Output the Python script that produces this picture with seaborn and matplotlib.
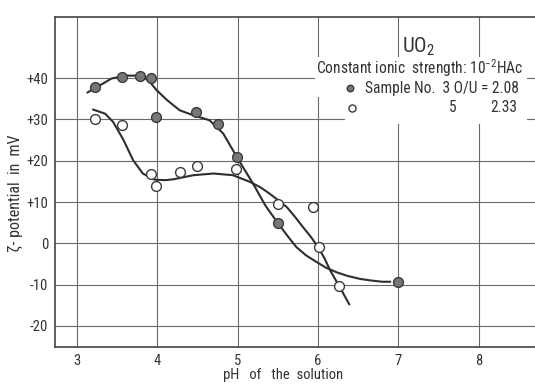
import matplotlib
matplotlib.use("Agg")
import matplotlib.pyplot as plt
from matplotlib import font_manager
from matplotlib.patches import Rectangle
import pandas as pd
import seaborn as sns

# ---------------- data ----------------
# Sample No. 3 (O/U = 2.08) - filled markers
s3_ph = [3.22, 3.56, 3.78, 3.92, 3.99, 4.48, 4.75, 4.99, 5.50, 7.00]
s3_mv = [37.9, 40.2, 40.5, 40.1, 30.6, 31.7, 29.0, 20.8, 4.9, -9.3]
# Sample No. 5 (O/U = 2.33) - open markers
s5_ph = [3.23, 3.56, 3.92, 3.99, 4.28, 4.49, 4.98, 5.50, 5.94, 6.01, 6.26]
s5_mv = [30.2, 28.6, 16.7, 13.8, 17.3, 18.7, 17.9, 9.6, 8.8, -1.0, -10.4]

# hand-drawn fitted curves
c3_ph = [3.13, 3.29, 3.43, 3.60, 3.78, 3.89, 3.99, 4.12, 4.28, 4.45, 4.65, 4.82,
         4.99, 5.19, 5.35, 5.50, 5.62, 5.73, 5.85, 5.98, 6.10, 6.23, 6.37, 6.52,
         6.66, 6.80, 6.90]
c3_mv = [36.5, 38.3, 39.9, 40.6, 40.6, 39.5, 37.1, 34.7, 32.2, 31.0, 29.8, 26.6,
         20.9, 14.5, 9.0, 4.9, 1.8, -0.9, -2.9, -4.5, -5.9, -7.0, -7.9, -8.6,
         -9.0, -9.3, -9.3]
c5_ph = [3.20, 3.35, 3.45, 3.58, 3.70, 3.82, 3.97, 4.10, 4.20, 4.45, 4.70, 4.94,
         5.15, 5.28, 5.40, 5.50, 5.61, 5.71, 5.81, 5.91, 6.00, 6.08, 6.15, 6.27,
         6.39]
c5_mv = [32.4, 31.4, 29.4, 25.0, 20.1, 16.9, 15.4, 15.3, 15.5, 16.5, 16.9, 16.5,
         14.9, 13.6, 12.0, 10.5, 8.8, 6.5, 4.0, 1.6, -0.9, -3.6, -6.5, -10.6,
         -14.8]

x_ticks = [3, 4, 5, 6, 7, 8]
y_ticks = [-20, -10, 0, 10, 20, 30, 40]
y_tick_labels = ["-20", "-10", "0", "+10", "+20", "+30", "+40"]

title_text = "UO$_2$"
cond_text = "Constant ionic  strength: 10$^{-2}$HAc"
row2_text = "Sample No.  3 O/U = 2.08"
row3_no = "5"
row3_ou = "2.33"
x_label = "pH   of   the  solution"
y_label = "ζ- potential  in  mV"

# ---------------- style ----------------
sns.set_theme(style="white")


def have_font(name):
    try:
        font_manager.findfont(font_manager.FontProperties(family=name),
                              fallback_to_default=False)
        return True
    except Exception:
        return False


narrow = "DejaVu Sans"
scale = 0.82
for cand, sc in [("Roboto Condensed", 1.0), ("Liberation Sans Narrow", 1.0),
                 ("DejaVu Sans Condensed", 0.9), ("Roboto", 0.9)]:
    if have_font(cand):
        narrow, scale = cand, sc
        break

plt.rcParams["font.family"] = [narrow, "DejaVu Sans"]
plt.rcParams["mathtext.fontset"] = "custom"
plt.rcParams["mathtext.rm"] = narrow
plt.rcParams["mathtext.it"] = narrow

ink = "#2e2e2e"
grid_c = "#6a6a6a"
txt_c = "#333333"

fig = plt.figure(figsize=(5.35, 3.84), dpi=100)
ax = fig.add_axes([55 / 535, 1 - 347 / 384, 480 / 535, 330 / 384])

ax.set_xlim(2.727, 8.70)
ax.set_ylim(-25.1, 54.8)

ax.set_xticks(x_ticks)
ax.set_yticks(y_ticks)
ax.set_yticklabels(y_tick_labels)
ax.tick_params(axis="both", length=0, labelsize=10.5 * scale, colors=txt_c)
ax.tick_params(axis="y", pad=5)
ax.tick_params(axis="x", pad=5)

ax.set_axisbelow(True)
ax.grid(True, color=grid_c, lw=0.8)

for side in ["left", "bottom", "top"]:
    ax.spines[side].set_visible(True)
    ax.spines[side].set_color("#444444")
    ax.spines[side].set_linewidth(1.2)
ax.spines["right"].set_visible(False)

# white area behind the legend text (hides the grid)
ax.add_patch(Rectangle((5.96, 35.5), 2.64, 9.6, facecolor="white",
                       edgecolor="none", zorder=1))
ax.add_patch(Rectangle((6.33, 29.0), 2.27, 7.0, facecolor="white",
                       edgecolor="none", zorder=1))

# curves
c3 = pd.DataFrame({"pH": c3_ph, "mV": c3_mv})
c5 = pd.DataFrame({"pH": c5_ph, "mV": c5_mv})
sns.lineplot(data=c3, x="pH", y="mV", sort=False, estimator=None, ax=ax,
             color=ink, lw=1.5, zorder=3)
sns.lineplot(data=c5, x="pH", y="mV", sort=False, estimator=None, ax=ax,
             color=ink, lw=1.5, zorder=3)

# markers
d3 = pd.DataFrame({"pH": s3_ph, "mV": s3_mv})
d5 = pd.DataFrame({"pH": s5_ph, "mV": s5_mv})
sns.scatterplot(data=d3, x="pH", y="mV", ax=ax, s=50, color="#777777",
                edgecolor="#3a3a3a", linewidth=1.0, zorder=4)
sns.scatterplot(data=d5, x="pH", y="mV", ax=ax, s=50, color="white",
                edgecolor="#3a3a3a", linewidth=1.0, zorder=4)

# legend block
fs = 11.2 * scale
ax.text(7.04, 47.5, title_text, fontsize=15 * scale, color=txt_c, ha="left",
        va="center", zorder=5)
ax.text(5.97, 42.4, cond_text, fontsize=fs, color=txt_c, ha="left",
        va="center", zorder=5)
ax.scatter([6.40], [37.6], s=22, color="#777777", edgecolor="#3a3a3a",
           linewidth=1.0, zorder=5)
ax.text(6.59, 37.6, row2_text, fontsize=fs, color=txt_c, ha="left",
        va="center", zorder=5)
ax.scatter([6.42], [32.8], s=26, color="white", edgecolor="#3a3a3a",
           linewidth=1.0, zorder=5)
ax.text(7.63, 32.8, row3_no, fontsize=fs, color=txt_c, ha="left",
        va="center", zorder=5)
ax.text(8.14, 32.8, row3_ou, fontsize=fs, color=txt_c, ha="left",
        va="center", zorder=5)

ax.set_xlabel(x_label, fontsize=10.5 * scale, color=txt_c)
ax.set_ylabel(y_label, fontsize=11.5 * scale, color=txt_c)
ax.xaxis.set_label_coords((283 - 55) / 480, -0.065)
ax.yaxis.set_label_coords((23 - 55) / 480, (347 - 193) / 330)

fig.savefig("out.png", dpi=100)
